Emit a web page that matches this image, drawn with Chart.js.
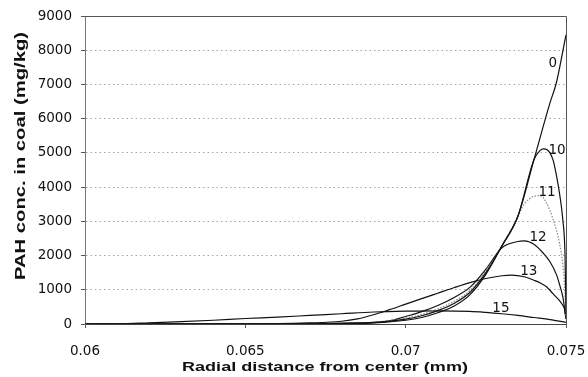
<!DOCTYPE html>
<html><head><meta charset="utf-8">
<script src="https://cdn.jsdelivr.net/npm/chart.js@4/dist/chart.umd.min.js"></script>
<style>html,body{margin:0;padding:0;background:#fff}#c{display:block}</style>
</head><body>
<canvas id="c" width="588" height="377"></canvas>
<script>
// ---- data ----
const xTickLabels = ['0.06', '0.065', '0.07', '0.075'];
const yTickLabels = ['0','1000','2000','3000','4000','5000','6000','7000','8000','9000'];

const x0  = [0.06, 0.066, 0.068, 0.069, 0.070, 0.0705, 0.071, 0.0715, 0.072, 0.0725, 0.073, 0.0735, 0.074, 0.0745, 0.0747, 0.075];
const y0  = [0, 0, 5, 30, 110, 190, 330, 520, 850, 1450, 2280, 3150, 4800, 6460, 7050, 8450];

const x10 = [0.06, 0.066, 0.068, 0.069, 0.070, 0.0705, 0.071, 0.0715, 0.072, 0.0725, 0.073, 0.0735, 0.074, 0.0742, 0.0743, 0.0744, 0.0745, 0.0746, 0.0747, 0.0748, 0.0749, 0.07497, 0.075];
const y10 = [0, 0, 10, 40, 140, 240, 390, 600, 920, 1500, 2280, 3150, 4800, 5080, 5120, 5100, 5000, 4780, 4350, 3800, 3050, 2000, 300];

const x11 = [0.06, 0.066, 0.068, 0.069, 0.070, 0.0705, 0.071, 0.0715, 0.072, 0.0725, 0.073, 0.0734, 0.0737, 0.0740, 0.0742, 0.0744, 0.0746, 0.0748, 0.0749, 0.07495, 0.075];
const y11 = [0, 0, 15, 55, 170, 280, 440, 660, 980, 1550, 2290, 2950, 3500, 3730, 3750, 3520, 3050, 2350, 1750, 1200, 200];

const x12 = [0.06, 0.067, 0.068, 0.069, 0.0695, 0.070, 0.0705, 0.071, 0.0715, 0.072, 0.0725, 0.073, 0.0735, 0.0737, 0.074, 0.0743, 0.0745, 0.0747, 0.0748, 0.0749, 0.07495, 0.075];
const y12 = [0, 5, 25, 50, 90, 220, 360, 540, 770, 1070, 1600, 2230, 2410, 2430, 2330, 2060, 1820, 1450, 1150, 800, 500, 150];

const x13 = [0.06, 0.066, 0.067, 0.068, 0.0685, 0.069, 0.0695, 0.070, 0.0705, 0.071, 0.0715, 0.072, 0.0725, 0.073, 0.0733, 0.0737, 0.074, 0.0742, 0.0744, 0.0746, 0.0748, 0.0749, 0.07495, 0.075];
const y13 = [0, 10, 30, 80, 150, 270, 420, 580, 740, 900, 1060, 1210, 1330, 1410, 1430, 1380, 1280, 1200, 1080, 880, 680, 550, 450, 150];

const x15 = [0.06, 0.061, 0.062, 0.063, 0.064, 0.065, 0.066, 0.067, 0.068, 0.069, 0.070, 0.071, 0.072, 0.0725, 0.073, 0.0735, 0.074, 0.0745, 0.075];
const y15 = [0, 5, 35, 70, 110, 160, 200, 250, 300, 350, 375, 385, 370, 340, 300, 250, 190, 130, 50];

const curveNames = ['0', '10', '11', '12', '13', '15'];
const curveLabelX = [0.07459, 0.07472, 0.07441, 0.07413, 0.07384, 0.07297];
const curveLabelY = [7600, 5084, 3828, 2513, 1520, 440];

const xTitle = 'Radial distance from center (mm)';
const yTitle = 'PAH conc. in coal (mg/kg)';

// ---- build ----
const pts = (xs, ys) => xs.map((x, i) => ({x, y: ys[i]}));
const seriesX = [x0, x10, x11, x12, x13, x15];
const seriesY = [y0, y10, y11, y12, y13, y15];

const datasets = seriesX.map((xs, i) => ({
  label: curveNames[i],
  data: pts(xs, seriesY[i]),
  borderColor: curveNames[i] === '11' ? '#8a8a8a' : '#111',
  borderWidth: 1.2,
  borderDash: curveNames[i] === '11' ? [1.5, 1.5] : [],
  pointRadius: 0,
  fill: false,
  cubicInterpolationMode: 'monotone'
}));

const TICK_FONT = {family: 'DejaVu Sans', size: 13.5};

function stretchedText(ctx, text, targetWidth) {
  const w = ctx.measureText(text).width;
  ctx.save();
  ctx.scale(targetWidth / w, 1);
  ctx.fillText(text, 0, 0);
  ctx.restore();
}

const decor = {
  id: 'decor',
  afterDatasetsDraw(chart) {
    const {ctx, chartArea: a, scales: {x, y}} = chart;
    ctx.save();
    ctx.fillStyle = '#111';
    ctx.font = '13.5px "DejaVu Sans"';
    ctx.textAlign = 'center';
    ctx.textBaseline = 'middle';
    curveNames.forEach((n, i) => {
      ctx.fillText(n, x.getPixelForValue(curveLabelX[i]), y.getPixelForValue(curveLabelY[i]));
    });
    // frame top & right
    ctx.strokeStyle = '#555';
    ctx.lineWidth = 1;
    ctx.beginPath();
    ctx.moveTo(a.left, a.top + 0.5);
    ctx.lineTo(a.right + 0.5, a.top + 0.5);
    ctx.lineTo(a.right + 0.5, a.bottom);
    ctx.stroke();
    ctx.restore();
  },
  afterDraw(chart) {
    const {ctx} = chart;
    ctx.save();
    ctx.fillStyle = '#111';
    ctx.textAlign = 'center';
    ctx.textBaseline = 'alphabetic';
    ctx.font = 'bold 13px "Liberation Sans"';
    ctx.save();
    ctx.translate(325, 371);
    stretchedText(ctx, xTitle, 286);
    ctx.restore();
    ctx.font = 'bold 15px "Liberation Sans"';
    ctx.save();
    ctx.translate(25, 156);
    ctx.rotate(-Math.PI / 2);
    stretchedText(ctx, yTitle, 248);
    ctx.restore();
    ctx.restore();
  }
};

new Chart(document.getElementById('c'), {
  type: 'line',
  data: {datasets},
  options: {
    responsive: false,
    animation: false,
    layout: {padding: {top: 16, right: 22, left: 0, bottom: 0}},
    plugins: {legend: {display: false}, tooltip: {enabled: false}},
    scales: {
      x: {
        type: 'linear', min: 0.06, max: 0.075,
        afterFit(s) { s.height = 53; s.paddingLeft = 0; s.paddingRight = 0; },
        afterBuildTicks(s) { s.ticks = xTickLabels.map(v => ({value: parseFloat(v)})); },
        ticks: {
          font: TICK_FONT, color: '#111', padding: 15, maxRotation: 0,
          callback: (v) => xTickLabels.find(t => Math.abs(parseFloat(t) - v) < 1e-9) || ''
        },
        grid: {drawOnChartArea: false, drawTicks: true, tickLength: 4, tickColor: '#555'},
        border: {display: true, color: '#444', width: 1}
      },
      y: {
        type: 'linear', min: 0, max: 9000,
        afterFit(s) { s.width = 85; s.paddingTop = 0; s.paddingBottom = 0; },
        afterBuildTicks(s) { s.ticks = yTickLabels.map(v => ({value: parseFloat(v)})); },
        ticks: {
          font: TICK_FONT, color: '#111', padding: 9,
          callback: (v) => yTickLabels.find(t => parseFloat(t) === v) || ''
        },
        grid: {color: '#a5a5a5', lineWidth: 1, tickLength: 4, tickColor: '#555', tickBorderDash: []},
        border: {display: true, color: '#777', width: 1, dash: [1.5, 3]}
      }
    }
  },
  plugins: [decor]
});
</script>
</body></html>
